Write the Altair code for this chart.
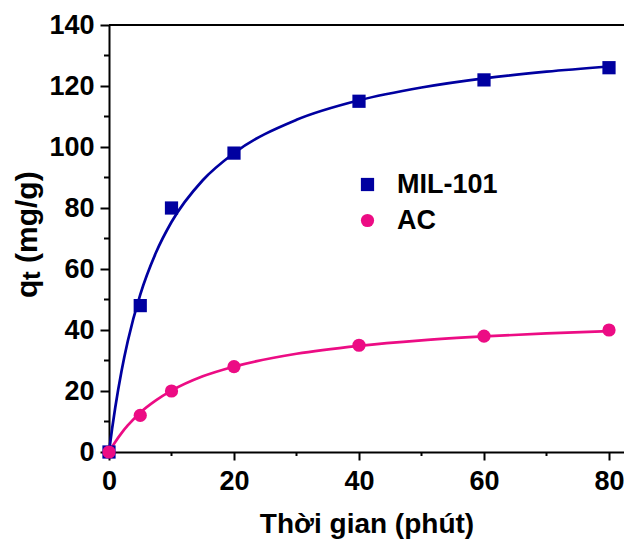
import altair as alt
import pandas as pd

# measured data
t_obs = [0, 5, 10, 20, 40, 60, 80]
mil_obs = [0, 48, 80, 98, 115, 122, 126]
ac_obs = [0, 12, 20, 28, 35, 38, 40]

# fitted curves
t_fit = [0, 0.5, 1, 2, 3, 5, 7.5, 10, 15, 20, 30, 40, 50, 60, 70, 80]
mil_fit = [0, 7.7, 14.6, 26.5, 36.3, 51.6, 65.3, 75.4, 89.1, 98, 108.9, 115.3, 119.5, 122.5, 124.7, 126.4]
ac_fit = [0, 1.7, 3.3, 6.2, 8.7, 12.9, 16.9, 20.1, 24.8, 28, 32.2, 34.8, 36.6, 37.9, 38.9, 39.6]

series = ["MIL-101", "AC"]
colors = ["#0000a0", "#ec0c84"]
shapes = ["square", "circle"]

x_ticks = [0, 20, 40, 60, 80]
x_minor = [10, 30, 50, 70]
y_ticks = [0, 20, 40, 60, 80, 100, 120, 140]
y_minor = [10, 30, 50, 70, 90, 110, 130]

FONT = "Liberation Sans"
W, H = 515, 427

obs = pd.DataFrame({
    "t": t_obs * 2,
    "q": mil_obs + ac_obs,
    "s": ["MIL-101"] * len(t_obs) + ["AC"] * len(t_obs),
})
fit = pd.DataFrame({
    "t": t_fit * 2,
    "q": mil_fit + ac_fit,
    "s": ["MIL-101"] * len(t_fit) + ["AC"] * len(t_fit),
})

xscale = alt.Scale(domain=[0, 82.4], nice=False, zero=False)
yscale = alt.Scale(domain=[0, 140], nice=False)
cscale = alt.Scale(domain=series, range=colors)
sscale = alt.Scale(domain=series, range=shapes)

xaxis = alt.Axis(values=x_ticks, title="Thời gian (phút)", grid=False,
                 labelFontSize=27, labelFont=FONT, labelFontWeight="bold",
                 titleFontSize=28, titleFont=FONT, titleFontWeight="bold",
                 tickSize=8, tickWidth=2, domainWidth=2, labelPadding=8,
                 titlePadding=16, domainColor="black", tickColor="black",
                 labelColor="black", titleColor="black", labelFlush=False)
yaxis = alt.Axis(values=y_ticks, title=None, grid=False,
                 labelFontSize=27, labelFont=FONT, labelFontWeight="bold",
                 tickSize=9, tickWidth=2, domainWidth=2, labelPadding=6,
                 domainColor="black", tickColor="black", labelColor="black",
                 labelFlush=False)

legend_opts = dict(
    title=None, orient="none", legendX=245, legendY=146, padding=0,
    labelFontSize=27, labelFont=FONT, labelFontWeight="bold",
    labelColor="black", rowPadding=8, labelOffset=16, symbolSize=175,
    symbolStrokeWidth=0, symbolOpacity=1)

lines = alt.Chart(fit).mark_line(strokeWidth=2.7, interpolate="monotone").encode(
    x=alt.X("t:Q", scale=xscale, axis=xaxis),
    y=alt.Y("q:Q", scale=yscale, axis=yaxis),
    color=alt.Color("s:N", scale=cscale, legend=alt.Legend(**legend_opts)),
    detail="s:N",
)

points = alt.Chart(obs).mark_point(filled=True, size=175, opacity=1, clip=False).encode(
    x=alt.X("t:Q", scale=xscale),
    y=alt.Y("q:Q", scale=yscale),
    color=alt.Color("s:N", scale=cscale, legend=alt.Legend(**legend_opts)),
    shape=alt.Shape("s:N", scale=sscale, legend=alt.Legend(**legend_opts)),
)

ymin = alt.Chart(pd.DataFrame({"v": y_minor})).mark_rule(color="black", strokeWidth=2).encode(
    y=alt.Y("v:Q", scale=yscale), x=alt.value(-5), x2=alt.value(0))
xmin = alt.Chart(pd.DataFrame({"v": x_minor})).mark_rule(color="black", strokeWidth=2).encode(
    x=alt.X("v:Q", scale=xscale), y=alt.value(H), y2=alt.value(H + 4))
top = alt.Chart(pd.DataFrame({"a": [0]})).mark_rule(color="black", strokeWidth=2).encode(
    x=alt.value(0), x2=alt.value(W), y=alt.value(0))

ytitle_q = alt.Chart(pd.DataFrame({"a": [0]})).mark_text(
    text="q", angle=270, align="left", baseline="alphabetic",
    font=FONT, fontWeight="bold", fontSize=30, color="black").encode(
    x=alt.value(-72), y=alt.value(273))
ytitle_t = alt.Chart(pd.DataFrame({"a": [0]})).mark_text(
    text="t", angle=270, align="left", baseline="alphabetic",
    font=FONT, fontWeight="bold", fontSize=26, color="black").encode(
    x=alt.value(-69), y=alt.value(255))
ytitle_rest = alt.Chart(pd.DataFrame({"a": [0]})).mark_text(
    text="(mg/g)", angle=270, align="left", baseline="alphabetic",
    font=FONT, fontWeight="bold", fontSize=30, color="black").encode(
    x=alt.value(-72), y=alt.value(238))

chart = alt.layer(lines, points, ymin, xmin, top, ytitle_q, ytitle_t, ytitle_rest).properties(
    width=W, height=H,
    autosize=alt.AutoSizeParams(type="none"),
    padding={"left": 101, "top": 17, "right": 0, "bottom": 90},
).configure_view(stroke=None).resolve_scale(color="shared", shape="shared")

chart.save("out.html", embed_options={"renderer": "svg", "actions": False})
